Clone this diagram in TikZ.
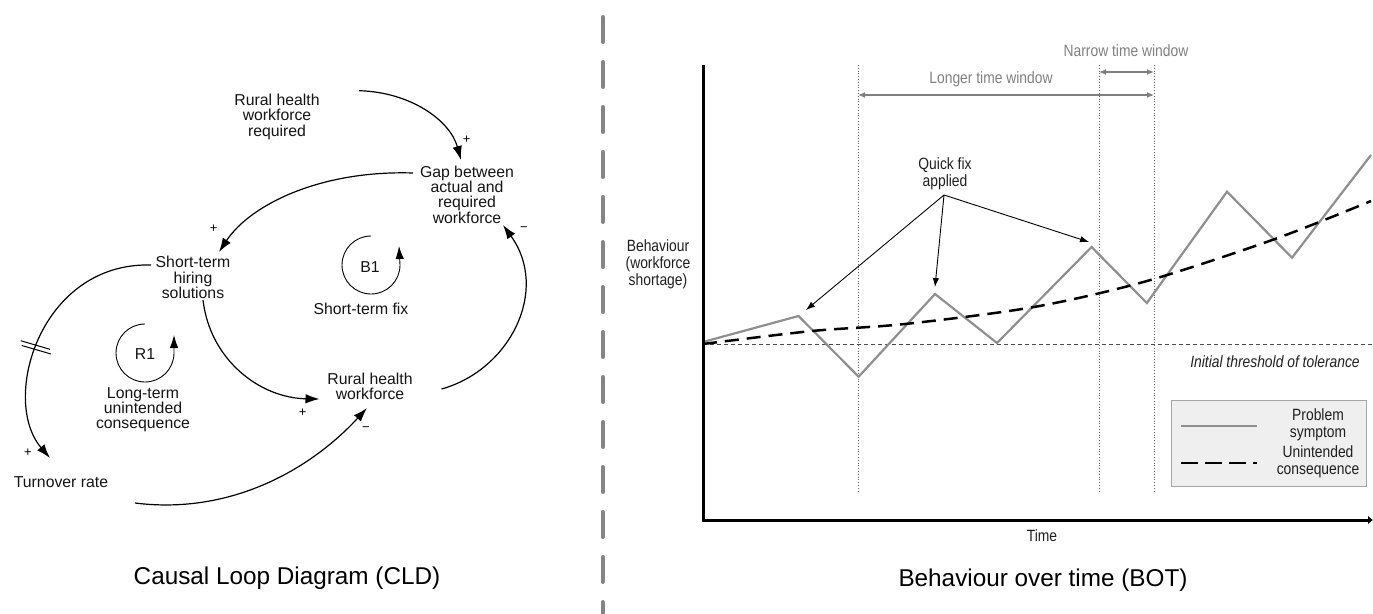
\documentclass[tikz,border=0pt]{standalone}
\usepackage{fontspec}
\setmainfont{Liberation Sans}
\newfontfamily\narrowfont[FakeStretch=0.85]{Liberation Sans}
\usetikzlibrary{arrows.meta}
\definecolor{symgray}{HTML}{8F8F8F}
\definecolor{wingray}{HTML}{808080}
\definecolor{sepgray}{HTML}{858585}
\definecolor{legfill}{HTML}{EFEFEF}
\begin{document}
\begin{tikzpicture}[x=1pt,y=-1pt,
  cldtext/.style={font=\fontsize{15.8}{15.3}\selectfont, align=center, inner sep=0pt, text=black!92},
  sign/.style={font=\fontsize{13}{13}\selectfont, inner sep=0pt},
  cldarrow/.style={line width=1.2pt, -{Latex[length=14pt,width=9.5pt]}},
  looparrow/.style={line width=0.9pt, -{Latex[length=13pt,width=8.5pt]}},
  bottext/.style={font=\narrowfont\fontsize{16.3}{17}\selectfont, align=center, inner sep=0pt, text=black!88},
  wintext/.style={font=\narrowfont\fontsize{16.3}{17}\selectfont, inner sep=0pt, text=wingray},
  winarrow/.style={line width=1.2pt, draw=wingray, {Latex[length=7pt,width=6pt]}-{Latex[length=7pt,width=6pt]}},
  fixarrow/.style={line width=0.9pt, -{Latex[length=9pt,width=6.5pt]}},
  captext/.style={font=\fontsize{24.3}{24}\selectfont, inner sep=0pt},
  vdot/.style={line width=0.8pt, draw=black!60, dotted}
]
\useasboundingbox (0,0) rectangle (1373,613);

% ---------- separator ----------
\draw[sepgray, line width=4pt, line cap=round, dash pattern=on 25pt off 20pt] (602.7,17) -- (602.7,613);

% ---------- CLD nodes ----------
\node[cldtext] (rhr) at (277,116.7) {Rural health\\workforce\\required};
\node[cldtext] (gap) at (467,194.5) {Gap between\\actual and\\required\\workforce};
\node[cldtext] (sth) at (193,277.5) {Short-term\\hiring\\solutions};
\node[cldtext] (rhw) at (370,386.5) {Rural health\\workforce};
\node[cldtext] (turn) at (61,481.7) {Turnover rate};
\node[cldtext] (b1) at (370,267) {B1};
\node[cldtext] (stfix) at (361,309) {Short-term fix};
\node[cldtext] (r1) at (145,354) {R1};
\node[cldtext] (ltuc) at (143,409.7) {Long-term\\unintended\\consequence};

% ---------- CLD connectors ----------
\coordinate (a1s) at (359,90.7);  \coordinate (a1e) at (461,160);
\coordinate (a2s) at (413,173);   \coordinate (a2e) at (219,252);
\coordinate (a3s) at (203,300);   \coordinate (a3e) at (319.5,399);
\coordinate (a4s) at (441.5,389); \coordinate (a4e) at (503,225);
\coordinate (a5s) at (151,265);   \coordinate (a5e) at (50,458);
\coordinate (a6s) at (135,503);   \coordinate (a6e) at (367,408);

\draw[cldarrow] (a1s) .. controls (410,92) and (450,120) .. (a1e);
\draw[cldarrow] (a2s) .. controls (320,170) and (250,205) .. (a2e);
\draw[cldarrow] (a3s) .. controls (210,360) and (260,398) .. (a3e);
\draw[cldarrow] (a4s) .. controls (510,370) and (550,290) .. (a4e);
\draw[cldarrow] (a5s) .. controls (40,262) and (0,400) .. (a5e);
\draw[cldarrow] (a6s) .. controls (230,515) and (310,470) .. (a6e);

% delay mark
\draw[line width=1pt] (20.7,340.7) -- (50,349.3);
\draw[line width=1pt] (21.7,345.5) -- (51,354);

% polarity signs
\node[sign] at (466.6,140) {+};
\node[sign] at (213.6,229) {+};
\node[sign] at (302.6,413) {+};
\node[sign] at (28,453) {+};
\node[sign] at (524,229) {−};
\node[sign] at (366,429) {−};

% loop symbols
\coordinate (b1c) at (371,265);
\draw[looparrow] (b1c) ++(0,-29) arc[start angle=-90, end angle=-360, radius=29] -- ++(-1,-19);
\coordinate (r1c) at (145,353);
\draw[looparrow] (r1c) ++(0,-29) arc[start angle=-90, end angle=-360, radius=29] -- ++(0,-18);

% caption
\node[captext] (capl) at (287,578) {Causal Loop Diagram (CLD)};

% ---------- BOT ----------
% dotted verticals
\draw[vdot] (858,65) -- (858,491);
\draw[vdot] (1099,65) -- (1099,491);
\draw[vdot] (1154,65) -- (1154,491);

% threshold
\draw[line width=0.9pt, draw=black!70, dash pattern=on 4pt off 3pt] (703,344) -- (1372,344);
\node[bottext, font=\narrowfont\itshape\fontsize{16.3}{17}\selectfont] (thr) at (1275,362) {Initial threshold of tolerance};

% problem symptom
\draw[symgray, line width=2.2pt, line join=miter] (703,342) -- (798.5,316) -- (858.6,376.7) -- (935,294) -- (997,343) -- (1091.6,247) -- (1146.8,303) -- (1227,191.7) -- (1292,257.7) -- (1371,155);

% unintended consequence
\draw[black, line width=2.5pt, dash pattern=on 14pt off 8pt] plot[smooth] coordinates {(703,344) (812,331) (905,324) (1034,307) (1147,281) (1275,239) (1371,201)};

% axes
\draw[line width=3pt, -{Latex[length=5pt,width=9pt]}] (703,65) -- (703,520) -- (1373,520);
\node[bottext] (time) at (1042,536) {Time};
\node[bottext] (beh) at (658,264) {Behaviour\\(workforce\\shortage)};

% time windows
\coordinate (lw1) at (858,95); \coordinate (lw2) at (1154,95);
\coordinate (nw1) at (1099,72); \coordinate (nw2) at (1154,72);
\draw[winarrow] (lw1) -- (lw2);
\draw[winarrow] (nw1) -- (nw2);
\node[wintext] (lwt) at (991,79) {Longer time window};
\node[wintext] (nwt) at (1126,51) {Narrow time window};

% quick fix
\node[bottext] (qf) at (945,174) {Quick fix\\applied};
\coordinate (qfo) at (944,195);
\coordinate (qf1) at (806,310);
\coordinate (qf2) at (935,287);
\coordinate (qf3) at (1089,242);
\draw[fixarrow] (qfo) -- (qf1);
\draw[fixarrow] (qfo) -- (qf2);
\draw[fixarrow] (qfo) -- (qf3);

% legend
\draw[draw=black!35, fill=legfill, line width=1pt] (1171,400) rectangle (1366,486);
\draw[symgray, line width=2.2pt] (1181,426) -- (1257,426);
\draw[black, line width=2.5pt, dash pattern=on 17pt off 7pt] (1181,463) -- (1257,463);
\node[bottext] (lg1) at (1318,425) {Problem\\symptom};
\node[bottext] (lg2) at (1318,461.5) {Unintended\\consequence};

% caption
\node[captext] (capr) at (1043,580) {Behaviour over time (BOT)};
\end{tikzpicture}
\end{document}
